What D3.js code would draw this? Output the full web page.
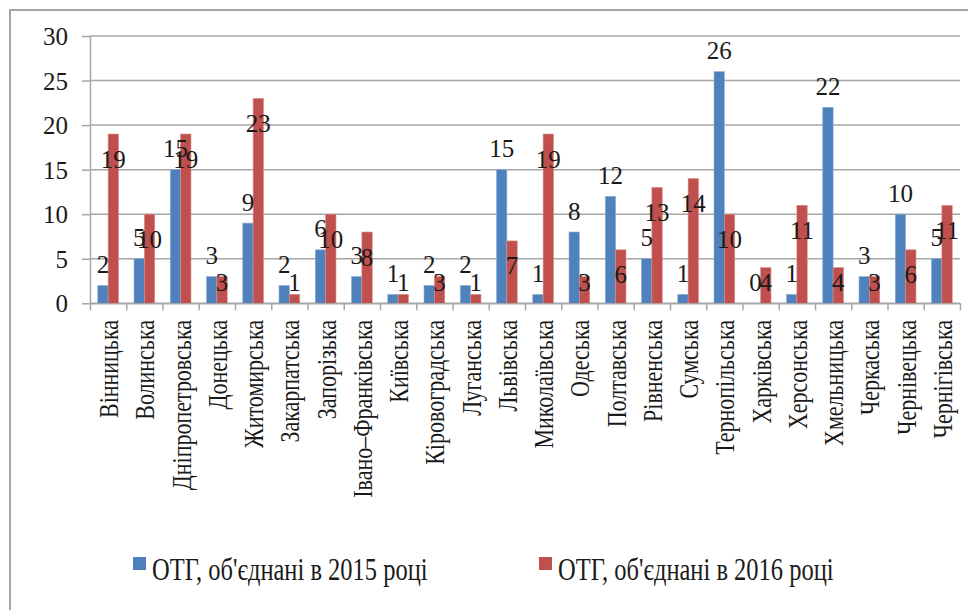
<!DOCTYPE html>
<html>
<head>
<meta charset="utf-8">
<script src="https://cdnjs.cloudflare.com/ajax/libs/d3/7.8.5/d3.min.js"></script>
<style>
  body { margin: 0; background: #fff; }
  text { font-family: "Liberation Serif", "Times New Roman", serif; fill: #1a1a1a; }
</style>
</head>
<body>
<div class="chart"></div>
<script>
// Chart data
var regions = ["Вінницька", "Волинська", "Дніпропетровська", "Донецька", "Житомирська",
  "Закарпатська", "Запорізька", "Івано–Франківська", "Київська", "Кіровоградська",
  "Луганська", "Львівська", "Миколаївська", "Одеська", "Полтавська", "Рівненська",
  "Сумська", "Тернопільська", "Харківська", "Херсонська", "Хмельницька", "Черкаська",
  "Чернівецька", "Чернігівська"];
var otg2015 = [2, 5, 15, 3, 9, 2, 6, 3, 1, 2, 2, 15, 1, 8, 12, 5, 1, 26, 0, 1, 22, 3, 10, 5];
var otg2016 = [19, 10, 19, 3, 23, 1, 10, 8, 1, 3, 1, 7, 19, 3, 6, 13, 14, 10, 4, 11, 4, 3, 6, 11];
var seriesNames = ["ОТГ, об'єднані в 2015 році", "ОТГ, об'єднані в 2016 році"];
var seriesColors = ["#4F81BD", "#C0504D"];
var yTicks = [0, 5, 10, 15, 20, 25, 30];

// Setup dimensions
var svgWidth = 968;
var svgHeight = 610;
var plot = { left: 90, right: 960, top: 36, bottom: 303.3 };

var svg = d3.select(".chart")
  .append("svg")
  .attr("width", svgWidth)
  .attr("height", svgHeight);

// outer frame (right and bottom edges fall outside the picture)
svg.append("rect")
  .attr("x", 10)
  .attr("y", 10)
  .attr("width", 1000)
  .attr("height", 700)
  .attr("fill", "none")
  .attr("stroke", "#A6A6A6")
  .attr("stroke-width", 2);

// Scales
var xScale = d3.scaleBand().domain(regions).range([plot.left, plot.right]).padding(0);
var xSub = d3.scaleBand().domain([0, 1]).range([0, xScale.bandwidth()])
  .paddingInner(0).paddingOuter(0.75);
var xIndex = d3.scaleLinear().domain([0, regions.length]).range([plot.left, plot.right]);
var yScale = d3.scaleLinear().domain([0, 30]).range([plot.bottom, plot.top]);

// Gridlines
svg.append("g")
  .selectAll("line")
  .data(yTicks)
  .enter().append("line")
  .attr("x1", plot.left)
  .attr("x2", plot.right)
  .attr("y1", function(d) { return yScale(d); })
  .attr("y2", function(d) { return yScale(d); })
  .attr("stroke", "#A6A6A6")
  .attr("stroke-width", 1.5);

// Y axis
var leftAxis = d3.axisLeft(yScale)
  .tickValues(yTicks)
  .tickSizeInner(8)
  .tickSizeOuter(0)
  .tickPadding(14);

var yAxisG = svg.append("g")
  .attr("transform", "translate(" + plot.left + ",0)")
  .call(leftAxis);
yAxisG.select(".domain").attr("stroke", "#A6A6A6").attr("stroke-width", 1.5);
yAxisG.selectAll(".tick line").attr("stroke", "#A6A6A6").attr("stroke-width", 1.5);
yAxisG.selectAll(".tick text")
  .attr("font-size", "25px")
  .attr("fill", "#1a1a1a")
  .attr("dy", "0.34em");

// Bars
var series = [otg2015, otg2016];
series.forEach(function(values, s) {
  svg.append("g")
    .selectAll("rect")
    .data(values)
    .enter().append("rect")
    .attr("x", function(d, i) { return xScale(regions[i]) + xSub(s); })
    .attr("y", function(d) { return yScale(d); })
    .attr("width", xSub.bandwidth())
    .attr("height", function(d) { return yScale(0) - yScale(d); })
    .attr("fill", seriesColors[s])
    .attr("stroke", s === 0 ? "#8EAED6" : "#D98C8A")
    .attr("stroke-width", 0.6);
});

// X axis with ticks at category boundaries
var bottomAxis = d3.axisBottom(xIndex)
  .tickValues(d3.range(regions.length + 1))
  .tickFormat("")
  .tickSizeInner(7)
  .tickSizeOuter(0);

var xAxisG = svg.append("g")
  .attr("transform", "translate(0," + plot.bottom + ")")
  .call(bottomAxis);
xAxisG.select(".domain").attr("stroke", "#A6A6A6").attr("stroke-width", 1.5);
xAxisG.selectAll(".tick line").attr("stroke", "#A6A6A6").attr("stroke-width", 1.5);

// Category labels, rotated
svg.append("g")
  .selectAll("text")
  .data(regions)
  .enter().append("text")
  .attr("transform", function(d) {
    return "translate(" + (xScale(d) + xScale.bandwidth() / 2 + 10) + ",320) rotate(-90) scale(1,1.2)";
  })
  .attr("text-anchor", "end")
  .attr("font-size", "22px")
  .text(function(d) { return d; });

// Data labels
series.forEach(function(values, s) {
  svg.append("g")
    .selectAll("text")
    .data(values)
    .enter().append("text")
    .attr("x", function(d, i) { return xScale(regions[i]) + xSub(s) + xSub.bandwidth() / 2; })
    .attr("y", function(d) {
      var c = s === 0 ? yScale(d) - 21 : Math.min(yScale(d) + 25, yScale(0) - 21);
      return c + 8.5;
    })
    .attr("text-anchor", "middle")
    .attr("font-size", "25px")
    .text(function(d) { return d; });
});

// Legend
var legendX = [133, 539];
var legend = svg.append("g");
seriesNames.forEach(function(name, s) {
  legend.append("rect")
    .attr("x", legendX[s])
    .attr("y", 557)
    .attr("width", 13)
    .attr("height", 13)
    .attr("fill", seriesColors[s]);
  legend.append("text")
    .attr("transform", "translate(" + (legendX[s] + 19) + ",580) scale(1,1.3)")
    .attr("font-size", "24.5px")
    .text(name);
});
</script>
</body>
</html>
